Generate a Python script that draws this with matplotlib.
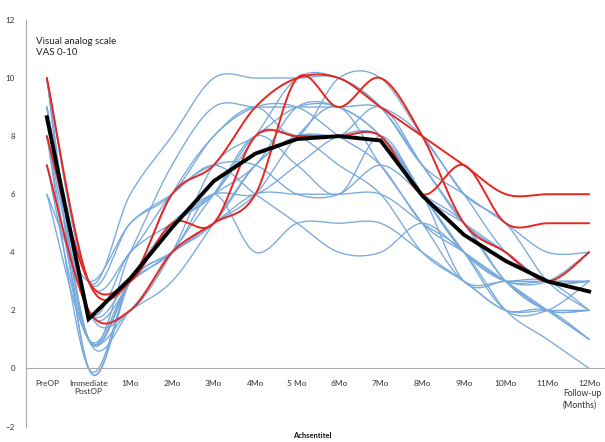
import numpy as np
import matplotlib
matplotlib.use("Agg")
import matplotlib.pyplot as plt
from matplotlib.transforms import ScaledTranslation

plt.rcParams['font.family'] = ['Lato', 'DejaVu Sans']

# categories on the x axis
categories = ['PreOP', 'Immediate\nPostOP', '1Mo', '2Mo', '3Mo', '4Mo', '5 Mo',
              '6Mo', '7Mo', '8Mo', '9Mo', '10Mo', '11Mo', '12Mo']

# individual patients (blue)
blue_series = [
    [10, 3, 6, 8, 10, 10, 10, 10, 9, 7, 5, 4, 3, 3],
    [10, 1, 4, 7, 9, 9, 9, 9, 9, 8, 6, 5, 3, 2],
    [9, 2, 3, 6, 8, 9, 8, 10, 10, 8, 6, 4, 3, 3],
    [10, 0, 3, 5, 6, 8, 10, 10, 9, 7, 6, 5, 4, 4],
    [9, 1, 3, 5, 6, 7, 9, 9, 8, 6, 5, 4, 3, 3],
    [10, 3, 4, 6, 7, 7, 6, 6, 7, 6, 5, 3, 2, 2],
    [8, 0, 3, 4, 5, 7, 8, 8, 9, 7, 5, 3, 2, 1],
    [6, 3, 5, 6, 7, 6, 5, 4, 4, 5, 4, 3, 2, 2],
    [9, 1, 2, 4, 6, 8, 7, 6, 8, 6, 4, 2, 2, 3],
    [8, 2, 3, 4, 5, 6, 8, 9, 7, 5, 3, 3, 3, 2],
    [10, 0, 3, 4, 5, 6, 6, 6, 6, 5, 4, 2, 1, 0],
    [9, 2, 4, 5, 6, 8, 8, 7, 6, 4, 3, 2, 2, 2],
    [7, 1, 3, 4, 6, 4, 5, 5, 5, 4, 3, 2, 2, 1],
    [6, 1, 2, 3, 5, 7, 8, 8, 8, 6, 4, 3, 3, 3],
    [10, 3, 5, 6, 8, 9, 9, 8, 7, 5, 4, 3, 3, 4],
    [9, 2, 2, 4, 7, 8, 9, 9, 8, 6, 4, 3, 2, 1],
    [8, 1, 3, 5, 6, 6, 7, 8, 8, 6, 3, 3, 3, 3],
]

# highlighted patients (red)
red_series = [
    [7, 2, 2, 4, 5, 6, 10, 9, 10, 8, 5, 4, 3, 4],
    [10, 3, 3, 6, 7, 9, 10, 10, 9, 8, 7, 6, 6, 6],
    [8, 3, 3, 5, 5, 8, 8, 8, 8, 6, 7, 5, 5, 5],
]

# mean (black)
mean_vas = [8.65, 1.7, 3.1, 4.85, 6.45, 7.4, 7.9, 8.0, 7.85, 5.95, 4.6, 3.7, 3.0, 2.65]


def smooth(y, n=24):
    # Excel-style smoothed line (cubic Bezier through the points)
    p = np.column_stack([np.arange(len(y)), np.asarray(y, float)])
    pad = np.vstack([p[0], p, p[-1]])
    t = np.linspace(0, 1, n)[:, None]
    out = []
    for i in range(len(p) - 1):
        p0, p1, p2, p3 = pad[i], pad[i + 1], pad[i + 2], pad[i + 3]
        c1 = p1 + (p2 - p0) / 6
        c2 = p2 - (p3 - p1) / 6
        seg = (1 - t) ** 3 * p1 + 3 * (1 - t) ** 2 * t * c1 + 3 * (1 - t) * t ** 2 * c2 + t ** 3 * p2
        out.append(seg if i == 0 else seg[1:])
    return np.vstack(out)


fig = plt.figure(figsize=(6.05, 4.42), dpi=100)
ax = fig.add_axes([26 / 605, 15.5 / 442, 584 / 605, 406.5 / 442])

for s in blue_series:
    c = smooth(s)
    ax.plot(c[:, 0], c[:, 1], color='#78a9dc', lw=0.95, solid_capstyle='round')
for s in red_series:
    c = smooth(s)
    ax.plot(c[:, 0], c[:, 1], color='#e8261f', lw=1.4, solid_capstyle='round')
ax.plot(np.arange(len(mean_vas)), mean_vas, color='black', lw=2.8, solid_joinstyle='miter')

ax.set_xlim(-0.5, 13.5)
ax.set_ylim(-2, 12)
ax.set_yticks(range(-2, 13, 2))
ax.set_xticks(range(len(categories)))
ax.tick_params(axis='y', labelsize=5.8, length=0, pad=8, colors='#333333')
ax.tick_params(axis='x', labelsize=6, length=0, pad=8, colors='#333333')
ax.set_xticklabels(categories, va='top', multialignment='left')

# excel puts the category labels slightly off the points
for i, lbl in enumerate(ax.get_xticklabels()):
    dx = (10 - 1.23 * i) / 100
    lbl.set_transform(lbl.get_transform() + ScaledTranslation(dx, 0, fig.dpi_scale_trans))

for side in ['top', 'right']:
    ax.spines[side].set_visible(False)
ax.spines['bottom'].set_position(('data', 0))
for side in ['bottom', 'left']:
    ax.spines[side].set_color('#aaaaaa')
    ax.spines[side].set_linewidth(0.8)

fig.text(36 / 605, 1 - 37 / 442, 'Visual analog scale\nVAS 0-10', fontsize=7,
         va='top', ha='left', color='#222222', linespacing=1.25)
fig.text(601 / 605, 1 - 389 / 442, 'Follow-up\n(Months)', fontsize=6.2,
         va='top', ha='right', multialignment='left', color='#333333', linespacing=1.3)
fig.text(312 / 605, 1 - 436 / 442, 'Achsentitel', fontsize=5.5, fontweight='bold',
         va='center', ha='center', color='#111111')

fig.savefig('out.png', dpi=100)
